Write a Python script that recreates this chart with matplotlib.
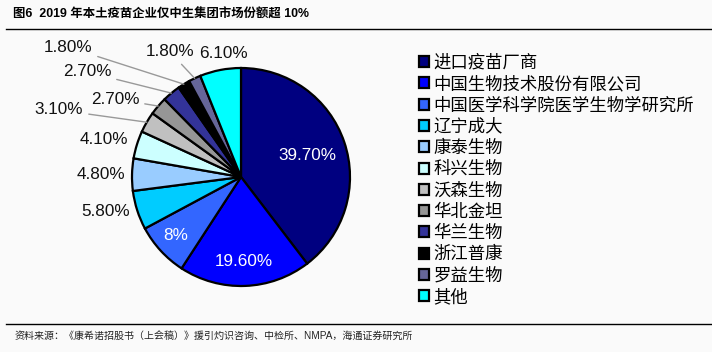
import matplotlib
matplotlib.use('Agg')
import matplotlib.pyplot as plt
from matplotlib.lines import Line2D
import numpy as np

plt.rcParams['font.family'] = ['Liberation Sans', 'Noto Sans CJK SC', 'DejaVu Sans']

# data
companies = ['进口疫苗厂商', '中国生物技术股份有限公司', '中国医学科学院医学生物学研究所',
             '辽宁成大', '康泰生物', '科兴生物', '沃森生物', '华北金坦', '华兰生物',
             '浙江普康', '罗益生物', '其他']
shares = [39.7, 19.6, 8, 5.8, 4.8, 4.1, 3.1, 2.7, 2.7, 1.8, 1.8, 6.1]
share_labels = ['39.70%', '19.60%', '8%', '5.80%', '4.80%', '4.10%', '3.10%',
                '2.70%', '2.70%', '1.80%', '1.80%', '6.10%']
colors = ['#000080', '#0000ff', '#3366ff', '#00ccff', '#99ccff', '#ccffff',
          '#c0c0c0', '#969696', '#333399', '#000000', '#666699', '#00ffff']

W, H = 712, 352
bg = '#fafafa'
fig = plt.figure(figsize=(W / 100, H / 100), dpi=100, facecolor=bg)

# pie axes, square box around the pie centre (pixels)
cx, cy, r = 241, 177, 109
half = 150
ax = fig.add_axes([(cx - half) / W, 1 - (cy + half) / H, 2 * half / W, 2 * half / H])
wedges, _ = ax.pie(shares, colors=colors, startangle=90, counterclock=False, radius=1,
                   wedgeprops=dict(edgecolor='black', linewidth=1.6))
ax.set_xlim(-half / r, half / r)
ax.set_ylim(-half / r, half / r)
ax.axis('off')

# label centres in pixels (layout only)
label_pos = [(307, 155), (244, 262), (176, 236), (106, 212), (101, 175), (104, 140),
             (59, 110), (115, 99), (87, 72), (68, 47), (170, 52), (223, 53)]
inside = [0, 1, 2]
leaders = [6, 7, 8, 9, 10]

for i, (w, lab) in enumerate(zip(wedges, share_labels)):
    x, y = label_pos[i]
    col = 'white' if i in inside else '#111111'
    if i in leaders:
        ang = np.deg2rad((w.theta1 + w.theta2) / 2)
        ax.annotate(lab, xy=(np.cos(ang), np.sin(ang)), xytext=(x, H - y),
                    textcoords='figure pixels', ha='center', va='center',
                    fontsize=12.3, color=col,
                    arrowprops=dict(arrowstyle='-', color='#999999', lw=1,
                                    shrinkA=2, shrinkB=0))
    else:
        fig.text(x / W, 1 - y / H, lab, ha='center', va='center', fontsize=12.3, color=col)

# legend
leg = ax.legend(wedges, companies, loc='upper left', bbox_to_anchor=(410 / W, 1 - 45 / H),
                bbox_transform=fig.transFigure, frameon=False, borderpad=0,
                handlelength=0.6, handleheight=0.6, handletextpad=0.25, labelspacing=0.19,
                prop={'family': ['Noto Sans CJK SC'], 'size': 12.5})

# title and source
fig.text(13 / W, 1 - 15 / H, '图6  2019 年本土疫苗企业仅中生集团市场份额超 10%',
         fontsize=8.9, fontweight='bold', va='center', color='black')
fig.add_artist(Line2D([6 / W, 1], [1 - 29 / H] * 2, color='black', lw=1))
fig.add_artist(Line2D([6 / W, 1], [1 - 324 / H] * 2, color='black', lw=1))
fig.text(15 / W, 1 - 336 / H,
         '资料来源：《康希诺招股书（上会稿）》援引灼识咨询、中检所、NMPA，海通证券研究所',
         fontsize=7.2, va='center', color='#222222')

fig.savefig('out.png', dpi=100, facecolor=bg)
